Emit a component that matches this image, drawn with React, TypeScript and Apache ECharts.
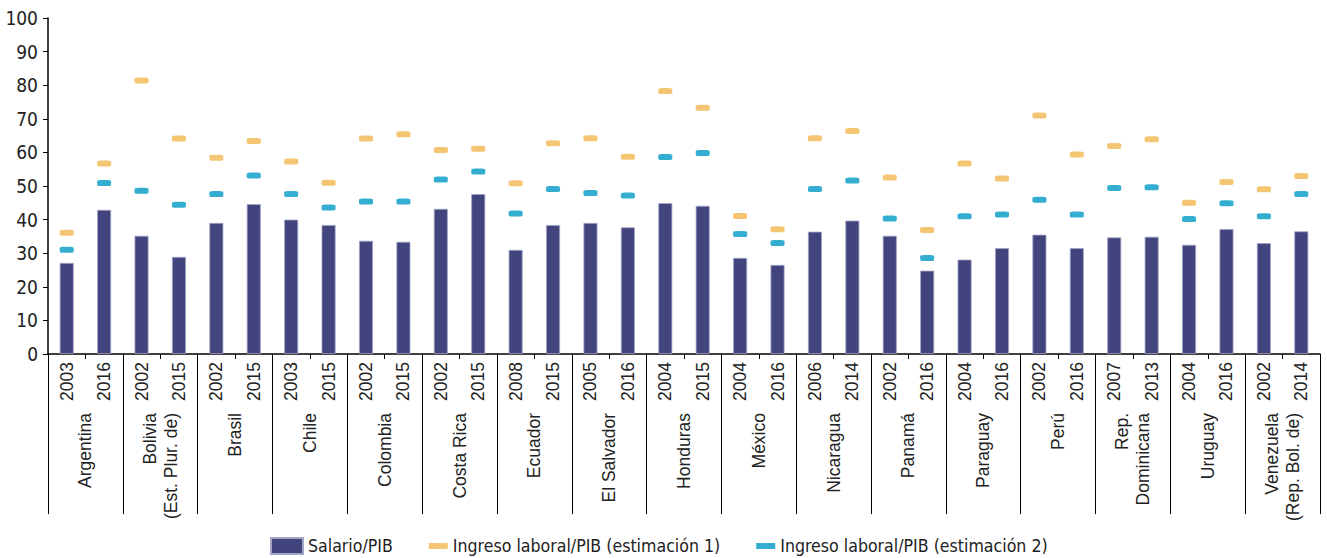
import React, { useEffect, useRef } from "react";
import * as echarts from "echarts";

const countries = [
  "Argentina",
  "Bolivia\n(Est. Plur. de)",
  "Brasil",
  "Chile",
  "Colombia",
  "Costa Rica",
  "Ecuador",
  "El Salvador",
  "Honduras",
  "México",
  "Nicaragua",
  "Panamá",
  "Paraguay",
  "Perú",
  "Rep.\nDominicana",
  "Uruguay",
  "Venezuela\n(Rep. Bol. de)",
];

const years = [
  "2003", "2016", "2002", "2015", "2002", "2015", "2003", "2015", "2002", "2015",
  "2002", "2015", "2008", "2015", "2005", "2016", "2004", "2015", "2004", "2016",
  "2006", "2014", "2002", "2016", "2004", "2016", "2002", "2016", "2007", "2013",
  "2004", "2016", "2002", "2014",
];

const salario = [
  27.1, 42.9, 35.2, 28.9, 39.0, 44.6, 40.0, 38.4, 33.7, 33.4,
  43.2, 47.6, 31.0, 38.4, 39.0, 37.7, 44.9, 44.1, 28.6, 26.5,
  36.4, 39.7, 35.2, 24.8, 28.1, 31.5, 35.5, 31.5, 34.7, 34.9,
  32.5, 37.2, 33.0, 36.5,
];

const estimacion1 = [
  36.1, 56.7, 81.4, 64.1, 58.4, 63.4, 57.3, 51.0, 64.1, 65.4,
  60.7, 61.1, 50.8, 62.7, 64.2, 58.7, 78.3, 73.3, 41.1, 37.1,
  64.2, 66.4, 52.5, 36.9, 56.7, 52.2, 71.0, 59.4, 61.9, 63.9,
  45.0, 51.2, 49.0, 53.0,
];

const estimacion2 = [
  31.0, 50.9, 48.6, 44.4, 47.6, 53.1, 47.6, 43.6, 45.4, 45.4,
  51.9, 54.3, 41.8, 49.1, 47.9, 47.2, 58.6, 59.8, 35.7, 33.0,
  49.1, 51.6, 40.3, 28.6, 41.0, 41.5, 45.9, 41.5, 49.4, 49.6,
  40.2, 44.9, 41.0, 47.6,
];

const seriesNames = [
  "Salario/PIB",
  "Ingreso laboral/PIB (estimación 1)",
  "Ingreso laboral/PIB (estimación 2)",
];

const NARROW = "'Liberation Sans Narrow', 'DejaVu Sans Condensed', Roboto, sans-serif";
const REG = "'Liberation Sans', Arial, sans-serif";

const dashIcon = "path://M0,0 M32,16 M13,5 L32,5 L32,11 L13,11 Z";

export default function App() {
  const ref = useRef<HTMLDivElement>(null);
  useEffect(() => {
    if (!ref.current) return;
    const chart = echarts.init(ref.current, null, { renderer: "svg" });
    const keys = years.map((y, i) => i + "|" + y);
    chart.setOption({
      animation: false,
      backgroundColor: "#ffffff",
      grid: { left: 48, right: 7, top: 18, bottom: 204, containLabel: false },
      legend: {
        left: 270,
        top: 537,
        padding: 0,
        itemWidth: 32,
        itemHeight: 16,
        itemGap: 23,
        textStyle: { fontFamily: NARROW, fontSize: 17.6, color: "#222" },
        data: [
          { name: seriesNames[0], icon: "rect" },
          { name: seriesNames[1], icon: dashIcon },
          { name: seriesNames[2], icon: dashIcon },
        ],
      },
      xAxis: [
        {
          type: "category",
          data: keys,
          boundaryGap: true,
          axisLine: { show: true, lineStyle: { color: "#000", width: 1.5 } },
          axisTick: { show: true, interval: 0, length: 5, lineStyle: { color: "#000" } },
          axisLabel: {
            interval: 0,
            rotate: 90,
            margin: 8,
            fontFamily: REG,
            fontSize: 17.5,
            color: "#222",
            formatter: (v: string) => v.split("|")[1],
          },
        },
        {
          type: "category",
          data: countries,
          position: "bottom",
          boundaryGap: true,
          axisLine: { show: false },
          axisTick: { show: true, interval: 0, length: 160, lineStyle: { color: "#000" } },
          axisLabel: {
            interval: 0,
            rotate: 90,
            margin: 59,
            fontFamily: REG,
            fontSize: 17.5,
            lineHeight: 21,
            color: "#222",
          },
        },
      ],
      yAxis: {
        type: "value",
        min: 0,
        max: 100,
        interval: 10,
        axisLine: { show: true, lineStyle: { color: "#000", width: 1.5 } },
        axisTick: { show: true, length: 5, lineStyle: { color: "#000" } },
        splitLine: { show: false },
        axisLabel: { margin: 10, fontFamily: NARROW, fontSize: 19, color: "#222" },
      },
      series: [
        {
          name: seriesNames[0],
          type: "bar",
          data: salario,
          barWidth: 14,
          itemStyle: { color: "#42447d", borderColor: "#a3a4c6", borderWidth: 0.8 },
          z: 2,
        },
        {
          name: seriesNames[1],
          type: "scatter",
          data: estimacion1,
          symbol: "roundRect",
          symbolSize: [14, 6],
          itemStyle: { color: "#f1b64f" },
          z: 3,
        },
        {
          name: seriesNames[2],
          type: "scatter",
          data: estimacion2,
          symbol: "roundRect",
          symbolSize: [14, 6],
          itemStyle: { color: "#0098c4" },
          z: 3,
        },
      ],
    });
    return () => chart.dispose();
  }, []);
  return (
    <div
      ref={ref}
      style={{ position: "fixed", left: 0, top: 0, width: 1327, height: 558, background: "#fff" }}
    />
  );
}
